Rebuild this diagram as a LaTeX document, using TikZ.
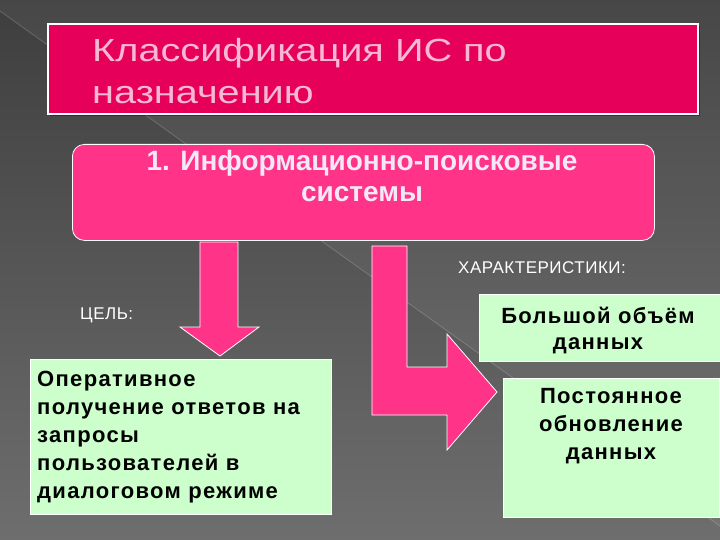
\documentclass[tikz,border=0pt]{standalone}
\usepackage{fontspec}
\setmainfont{Liberation Sans}
\newfontfamily\wideb{Liberation Sans}[LetterSpace=6]
\newfontfamily\widel{Liberation Sans}[LetterSpace=3]
\definecolor{bgtop}{HTML}{3E3E3E}
\definecolor{bgbot}{HTML}{6E6E6E}
\definecolor{crimson}{HTML}{E6005A}
\definecolor{hotpink}{HTML}{FF3388}
\definecolor{mint}{HTML}{CCFFCC}
\definecolor{titletext}{HTML}{F6B8D2}
\definecolor{boxtext}{HTML}{F2E8F6}
\tikzset{
  greenbox/.style={draw=white, line width=1pt, fill=mint, inner sep=0pt},
  pinkshape/.style={draw=white, line width=0.8pt, fill=hotpink},
  label/.style={text=white, font=\widel\fontsize{17}{20}\selectfont, inner sep=0pt},
  greentext/.style={text=black, font=\wideb\bfseries\fontsize{22}{28}\selectfont, inner sep=0pt}
}
\begin{document}
\begin{tikzpicture}[x=1pt,y=-1pt]
\useasboundingbox (0,0) rectangle (720,540);
\shade[top color=bgtop, bottom color=bgbot] (0,0) rectangle (720,540);
\fill[white, opacity=0.05] (0,0) -- (0,11) -- (720,526) -- (720,0) -- cycle;
\draw[white, opacity=0.18, line width=0.8pt] (0,11) -- (720,526);
% title box
\fill[black, opacity=0.35] (50,26) rectangle (700,116);
\node[draw=white, line width=2pt, fill=crimson, minimum width=650pt, minimum height=90pt, anchor=north west, inner sep=0pt] (title) at (47,23) {};
\node[anchor=west, text=titletext, font=\fontsize{32}{42}\selectfont, align=left, inner sep=0pt, xscale=1.24] (titletxt) at (92,71) {Классификация ИС по\\назначению};
% main box
\node[draw=white, line width=0.8pt, fill=hotpink, rounded corners=12pt, minimum width=582pt, minimum height=96pt, anchor=north west, inner sep=0pt] (main) at (72,144) {};
\node[text=boxtext, font=\bfseries\fontsize{28}{31}\selectfont, align=center, inner sep=0pt, anchor=north] (maintxt) at (362,150) {1. Информационно-поисковые\\системы};
% down arrow
\draw[pinkshape] (200,242) -- (238,242) -- (238,327) -- (259,327) -- (220,356) -- (180,327) -- (200,327) -- cycle;
% L arrow
\draw[pinkshape] (372,246) -- (407,246) -- (407,367) -- (447,367) -- (447,334) -- (497,392) -- (447,450) -- (447,415) -- (372,415) -- cycle;
% labels
\node[label, anchor=west] (goal) at (80,315) {ЦЕЛЬ:};
\node[label, anchor=west] (char) at (458,268) {ХАРАКТЕРИСТИКИ:};
% left green box
\node[greenbox, minimum width=301pt, minimum height=155pt, anchor=north west] (goalbox) at (30,359) {};
\node[greentext, anchor=north west, align=left] (goaltxt) at (37,371) {Оперативное\\получение ответов на\\запросы\\пользователей в\\диалоговом режиме};
% right boxes
\node[greenbox, minimum width=245pt, minimum height=67pt, anchor=north west] (c1) at (479,294) {};
\node[greentext, anchor=north, align=center, font=\wideb\bfseries\fontsize{22}{26}\selectfont] (c1txt) at (598,307) {Большой объём\\данных};
\node[greenbox, minimum width=216pt, minimum height=139pt, anchor=north west] (c2) at (503,378) {};
\node[greentext, anchor=north, align=center] (c2txt) at (611,388) {Постоянное\\обновление\\данных};
\end{tikzpicture}
\end{document}
